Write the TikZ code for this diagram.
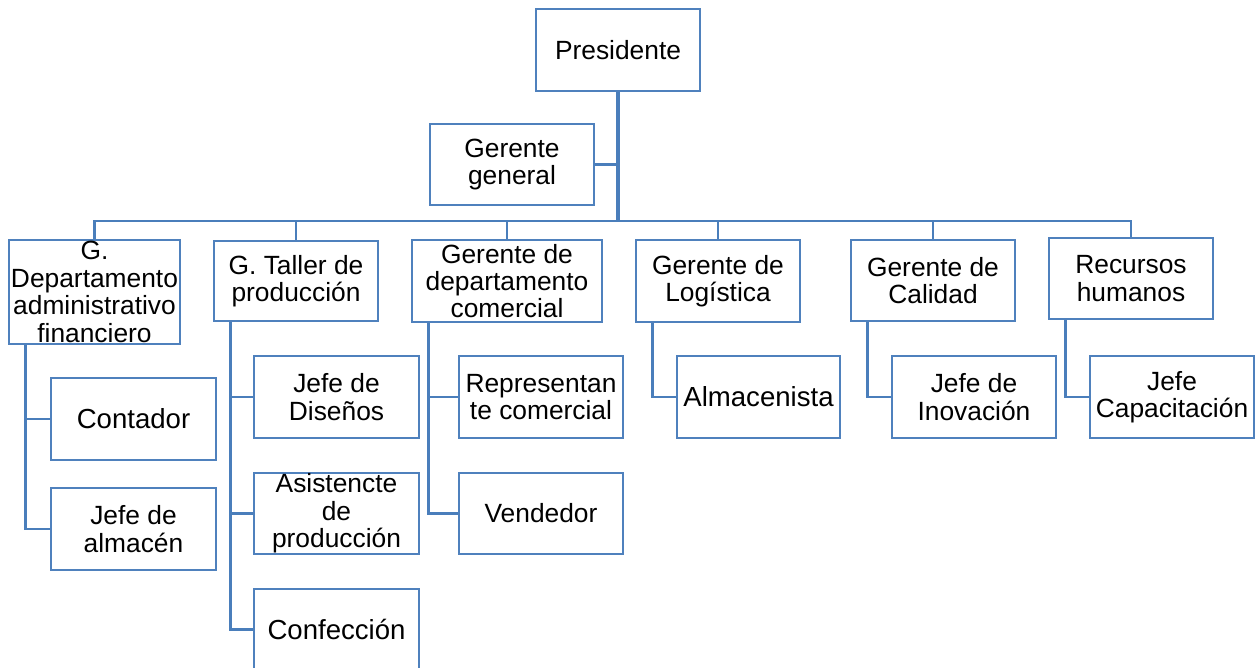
\documentclass[tikz,border=0pt]{standalone}
\usepackage{fontspec}
\setmainfont{Liberation Sans}
\definecolor{azul}{RGB}{79,129,189}
\definecolor{linea}{RGB}{74,126,187}
\tikzset{
  caja/.style={draw = azul, line width = 1.6pt, inner sep = 0pt, align = center, font = \fontsize{15}{15.6}\selectfont},
  grande/.style={font = \fontsize{15.7}{16}\selectfont},
  tam/.style 2 args={minimum width = #1*\u, minimum height = #2*\u},
  conector/.style={draw = linea, line width = 1.5pt}
}
\begin{document}
\begin{tikzpicture}[x = 0.02cm, y = -0.02cm]
\pgfmathsetlengthmacro\u{0.02cm};
\useasboundingbox (0,0) rectangle (1255,668);
\node[caja, tam = {164}{82}] (pres) at (618,50) {Presidente};
\node[caja, tam = {164}{81}] (gg) at (512,164.5) {Gerente\\general};
\coordinate (bus) at (618,221);
\node[caja, tam = {171}{104}] (dep) at (94.5,292) {G.\\Departamento\\administrativo\\financiero};
\node[caja, tam = {164}{80}] (tal) at (296,281) {G. Taller de\\producción};
\node[caja, tam = {190}{82}] (com) at (507,281) {Gerente de\\departamento\\comercial};
\node[caja, tam = {164}{82}] (log) at (718,281) {Gerente de\\Logística};
\node[caja, tam = {164}{81}] (cal) at (933,280.5) {Gerente de\\Calidad};
\node[caja, tam = {164}{81}] (rh) at (1131,278.5) {Recursos\\humanos};
\node[caja, grande, tam = {165}{82}] (cont) at (133.5,419) {Contador};
\node[caja, tam = {165}{82}] (jalm) at (133.5,529) {Jefe de\\almacén};
\node[caja, tam = {165}{82}] (dis) at (336.5,397) {Jefe de\\Diseños};
\node[caja, tam = {165}{81}] (asis) at (336.5,513.5) {Asistencte\\de\\producción};
\node[caja, grande, tam = {165}{81}] (conf) at (336.5,629.5) {Confección};
\node[caja, tam = {164}{82}] (rep) at (541,397) {Representan\\te comercial};
\node[caja, tam = {164}{81}] (vend) at (541,513.5) {Vendedor};
\node[caja, grande, tam = {163}{82}] (almc) at (758.5,397) {Almacenista};
\node[caja, tam = {164}{82}] (inov) at (974,397) {Jefe de\\Inovación};
\node[caja, tam = {164}{82}] (cap) at (1172,397) {Jefe\\Capacitación};
% tronco
\draw[conector, line width = 2.2pt] (pres.south) -- (bus);
\draw[conector] (gg.east) -- (gg.east -| bus);
\foreach \n in {dep,tal,com,log,cal,rh} \draw[conector] (bus) -| (\n.north);
% subordinados
\foreach \p/\c in {dep/cont,dep/jalm,tal/dis,tal/asis,tal/conf,com/rep,com/vend,log/almc,cal/inov,rh/cap}
  \draw[conector] (\p.south west) ++(18,0) |- (\c.west);
\end{tikzpicture}
\end{document}
